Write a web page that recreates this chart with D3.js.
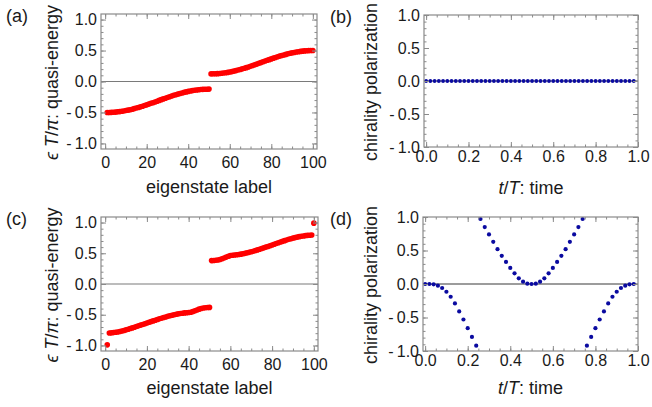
<!DOCTYPE html>
<html>
<head>
<meta charset="utf-8">
<script src="https://cdnjs.cloudflare.com/ajax/libs/d3/7.8.5/d3.min.js"></script>
<style>
  body { margin: 0; background: #fff; }
  svg text { font-family: "Liberation Sans", Arial, sans-serif; fill: #1a1a1a; }
</style>
</head>
<body>
<div id="chart"></div>
<script>
// ---- data ----
// eigenstate labels 1..100 (a, c) and time samples t/T (b, d)
var stateLabels = d3.range(1, 101);
var timeSteps = d3.range(0, 50).map(k => k / 50);

// (a) quasi-energy eT/pi, one value per eigenstate
var energyA = [
  -0.500, -0.500, -0.498, -0.497, -0.494, -0.490, -0.486, -0.481, -0.476, -0.469,
  -0.463, -0.455, -0.447, -0.438, -0.429, -0.419, -0.409, -0.399, -0.388, -0.377,
  -0.365, -0.353, -0.342, -0.330, -0.318, -0.305, -0.293, -0.281, -0.270, -0.258,
  -0.246, -0.235, -0.224, -0.214, -0.204, -0.194, -0.185, -0.176, -0.168, -0.160,
  -0.154, -0.147, -0.142, -0.137, -0.133, -0.129, -0.127, -0.125, -0.124, -0.123,
   0.123,  0.124,  0.125,  0.127,  0.129,  0.133,  0.137,  0.142,  0.147,  0.154,
   0.160,  0.168,  0.176,  0.185,  0.194,  0.204,  0.214,  0.224,  0.235,  0.246,
   0.258,  0.270,  0.281,  0.293,  0.305,  0.318,  0.330,  0.342,  0.353,  0.365,
   0.377,  0.388,  0.399,  0.409,  0.419,  0.429,  0.438,  0.447,  0.455,  0.463,
   0.469,  0.476,  0.481,  0.486,  0.490,  0.494,  0.497,  0.498,  0.500,  0.500
];

// (c) quasi-energy eT/pi, one value per eigenstate
var energyC = [
  -0.990, -0.797, -0.795, -0.791, -0.786, -0.780, -0.773, -0.765, -0.756, -0.746,
  -0.736, -0.725, -0.714, -0.703, -0.692, -0.681, -0.669, -0.658, -0.646, -0.635,
  -0.623, -0.612, -0.600, -0.589, -0.578, -0.567, -0.556, -0.546, -0.536, -0.526,
  -0.517, -0.508, -0.500, -0.493, -0.486, -0.480, -0.475, -0.470, -0.467, -0.464,
  -0.460, -0.450, -0.436, -0.422, -0.409, -0.399, -0.391, -0.386, -0.383, -0.381,
   0.381,  0.383,  0.386,  0.391,  0.399,  0.410,  0.424,  0.438,  0.452,  0.462,
   0.467,  0.471,  0.475,  0.480,  0.486,  0.492,  0.499,  0.507,  0.515,  0.524,
   0.534,  0.544,  0.555,  0.566,  0.577,  0.588,  0.600,  0.611,  0.623,  0.635,
   0.647,  0.659,  0.671,  0.683,  0.694,  0.705,  0.716,  0.727,  0.737,  0.746,
   0.755,  0.763,  0.770,  0.776,  0.782,  0.787,  0.791,  0.794,  0.797,  0.990
];

// (b) chirality polarization over one period
var polarB = [
  0, 0, 0, 0, 0, 0, 0, 0, 0, 0,
  0, 0, 0, 0, 0, 0, 0, 0, 0, 0,
  0, 0, 0, 0, 0, 0, 0, 0, 0, 0,
  0, 0, 0, 0, 0, 0, 0, 0, 0, 0,
  0, 0, 0, 0, 0, 0, 0, 0, 0, 0
];

// (d) chirality polarization over one period
var polarD = [
  0, 0, -0.005, -0.025, -0.06, -0.116, -0.19, -0.29, -0.41, -0.53,
  -0.66, -0.79, -0.92, 0.97, 0.85, 0.74, 0.63, 0.52, 0.42, 0.33,
  0.24, 0.16, 0.085, 0.035, 0.005, 0, 0.005, 0.035, 0.085, 0.16,
  0.24, 0.33, 0.42, 0.52, 0.63, 0.74, 0.85, 0.97, -0.92, -0.79,
  -0.66, -0.53, -0.41, -0.29, -0.19, -0.116, -0.06, -0.025, -0.005, 0
];

var yTicks = [-1, -0.5, 0, 0.5, 1];
var yMinor = d3.range(-10, 11).map(v => v / 10);
var stateTicks = [0, 20, 40, 60, 80, 100];
var stateMinor = d3.range(0, 21).map(v => v * 5);
var timeTicks = [0, 0.2, 0.4, 0.6, 0.8, 1];
var timeMinor = d3.range(0, 21).map(v => v / 20);

// ---- drawing ----
var svg = d3.select("#chart").append("svg")
  .attr("width", 652).attr("height", 407);

var frameColor = "#8a8a8a";

// Mathematica-style labels: "- 0.5" with a small gap after the minus
function fmtY(v) {
  if (Math.abs(v) < 1e-9) return "0.0";
  return v < 0 ? "-\u2009" + Math.abs(v).toFixed(1) : v.toFixed(1);
}

function drawPanel(p) {
  var x = d3.scaleLinear().domain(p.xDomain).range([p.left, p.right]);
  var y = d3.scaleLinear().domain(p.yDomain).range([p.bottom, p.top]);
  var g = svg.append("g");
  var w = p.right - p.left, h = p.bottom - p.top;

  // zero line
  g.append("line")
    .attr("x1", p.left).attr("x2", p.right)
    .attr("y1", y(0)).attr("y2", y(0))
    .attr("stroke", p.zeroColor).attr("stroke-width", 1.2);

  // points
  g.append("g").selectAll("circle")
    .data(p.xs.map((d, i) => [d, p.ys[i]]))
    .enter().append("circle")
    .attr("cx", d => x(d[0]))
    .attr("cy", d => y(d[1]))
    .attr("r", p.r)
    .attr("fill", p.color);

  // ticks: major + minor on all four sides, pointing inward
  function tickAxis(axisFn, scale, values, size, tr, labels, pad) {
    var a = axisFn(scale).tickValues(values).tickSize(-size).tickSizeOuter(0);
    if (!labels) a.tickFormat("");
    else a.tickFormat(labels).tickPadding(pad);
    var ag = g.append("g").attr("transform", tr).call(a);
    ag.select(".domain").remove();
    ag.selectAll("line").attr("stroke", frameColor).attr("stroke-width", 1);
    ag.selectAll("text").attr("font-size", 16).attr("fill", "#1a1a1a")
      .style("font-family", "'Liberation Sans', Arial, sans-serif");
    return ag;
  }
  var bt = "translate(0," + p.bottom + ")", tt = "translate(0," + p.top + ")";
  var lt = "translate(" + p.left + ",0)", rt = "translate(" + p.right + ",0)";
  tickAxis(d3.axisBottom, x, p.xMinor, 2.5, bt, null);
  tickAxis(d3.axisBottom, x, p.xTicks, 5, bt, p.xFmt, p.xPad);
  tickAxis(d3.axisTop, x, p.xMinor, 2.5, tt, null);
  tickAxis(d3.axisTop, x, p.xTicks, 5, tt, null);
  tickAxis(d3.axisLeft, y, yMinor, 2.5, lt, null);
  tickAxis(d3.axisLeft, y, yTicks, 5, lt, fmtY, 4);
  tickAxis(d3.axisRight, y, yMinor, 2.5, rt, null);
  tickAxis(d3.axisRight, y, yTicks, 5, rt, null);

  // frame
  g.append("rect")
    .attr("x", p.left).attr("y", p.top)
    .attr("width", w).attr("height", h)
    .attr("fill", "none").attr("stroke", frameColor).attr("stroke-width", 1.2);

  // x label
  var xl = g.append("text")
    .attr("x", (p.left + p.right) / 2).attr("y", p.bottom + p.xLabelDy)
    .attr("text-anchor", "middle").attr("font-size", 18);
  p.xLabel.forEach(s => xl.append("tspan").attr("font-style", s[1] ? "italic" : null).text(s[0]));

  // y label
  var yl = g.append("text")
    .attr("transform", "translate(" + p.yLabelX + "," + ((p.top + p.bottom) / 2 + 1) + ") rotate(-90)")
    .attr("text-anchor", "middle").attr("font-size", 18);
  if (p.yLabelLen) yl.attr("textLength", p.yLabelLen).attr("lengthAdjust", "spacing");
  p.yLabel.forEach(s => yl.append("tspan").attr("font-style", s[1] ? "italic" : null).text(s[0]));

  // panel tag
  g.append("text").attr("x", p.tagX).attr("y", p.top + 8)
    .attr("font-size", 18).text(p.tag);
}

var energyLabel = [["\u03F5", true], [" "], ["T", true], ["/"], ["\u03C0", true], [": quasi-energy"]];
var polarLabel = [["chirality polarization"]];
var stateLabel = [["eigenstate label"]];
var timeLabel = [["t", true], ["/"], ["T", true], [": time"]];

var panels = [
  { tag: "(a)", left: 101, right: 317, top: 14, bottom: 149,
    xDomain: [-2, 102], yDomain: [-1.09, 1.09],
    xs: stateLabels, ys: energyA, color: "#ff0000", r: 2.8, zeroColor: "#7a7a7a",
    xTicks: stateTicks, xMinor: stateMinor, xFmt: d3.format("d"), xPad: 7.5,
    xLabel: stateLabel, yLabel: energyLabel, yLabelLen: 155, xLabelDy: 44, yLabelX: 58, tagX: 6 },
  { tag: "(b)", left: 424, right: 638, top: 15, bottom: 147,
    xDomain: [-0.01, 1.0], yDomain: [-1, 1],
    xs: timeSteps, ys: polarB, color: "#0a0aa0", r: 1.9, zeroColor: "#3a3a3a",
    xTicks: timeTicks, xMinor: timeMinor, xFmt: d3.format(".1f"), xPad: 4,
    xLabel: timeLabel, yLabel: polarLabel, xLabelDy: 47, yLabelX: 377, tagX: 330 },
  { tag: "(c)", left: 101, right: 318, top: 217, bottom: 351,
    xDomain: [-2, 102], yDomain: [-1.09, 1.09],
    xs: stateLabels, ys: energyC, color: "#ff0000", r: 2.8, zeroColor: "#7a7a7a",
    xTicks: stateTicks, xMinor: stateMinor, xFmt: d3.format("d"), xPad: 7.5,
    xLabel: stateLabel, yLabel: energyLabel, yLabelLen: 155, xLabelDy: 43, yLabelX: 58, tagX: 6 },
  { tag: "(d)", left: 423, right: 638, top: 217, bottom: 351,
    xDomain: [-0.01, 1.0], yDomain: [-1, 1],
    xs: timeSteps, ys: polarD, color: "#0a0aa0", r: 2.1, zeroColor: "#3a3a3a",
    xTicks: timeTicks, xMinor: timeMinor, xFmt: d3.format(".1f"), xPad: 4,
    xLabel: timeLabel, yLabel: polarLabel, xLabelDy: 43, yLabelX: 377, tagX: 330 }
];

panels.forEach(drawPanel);
</script>
</body>
</html>
